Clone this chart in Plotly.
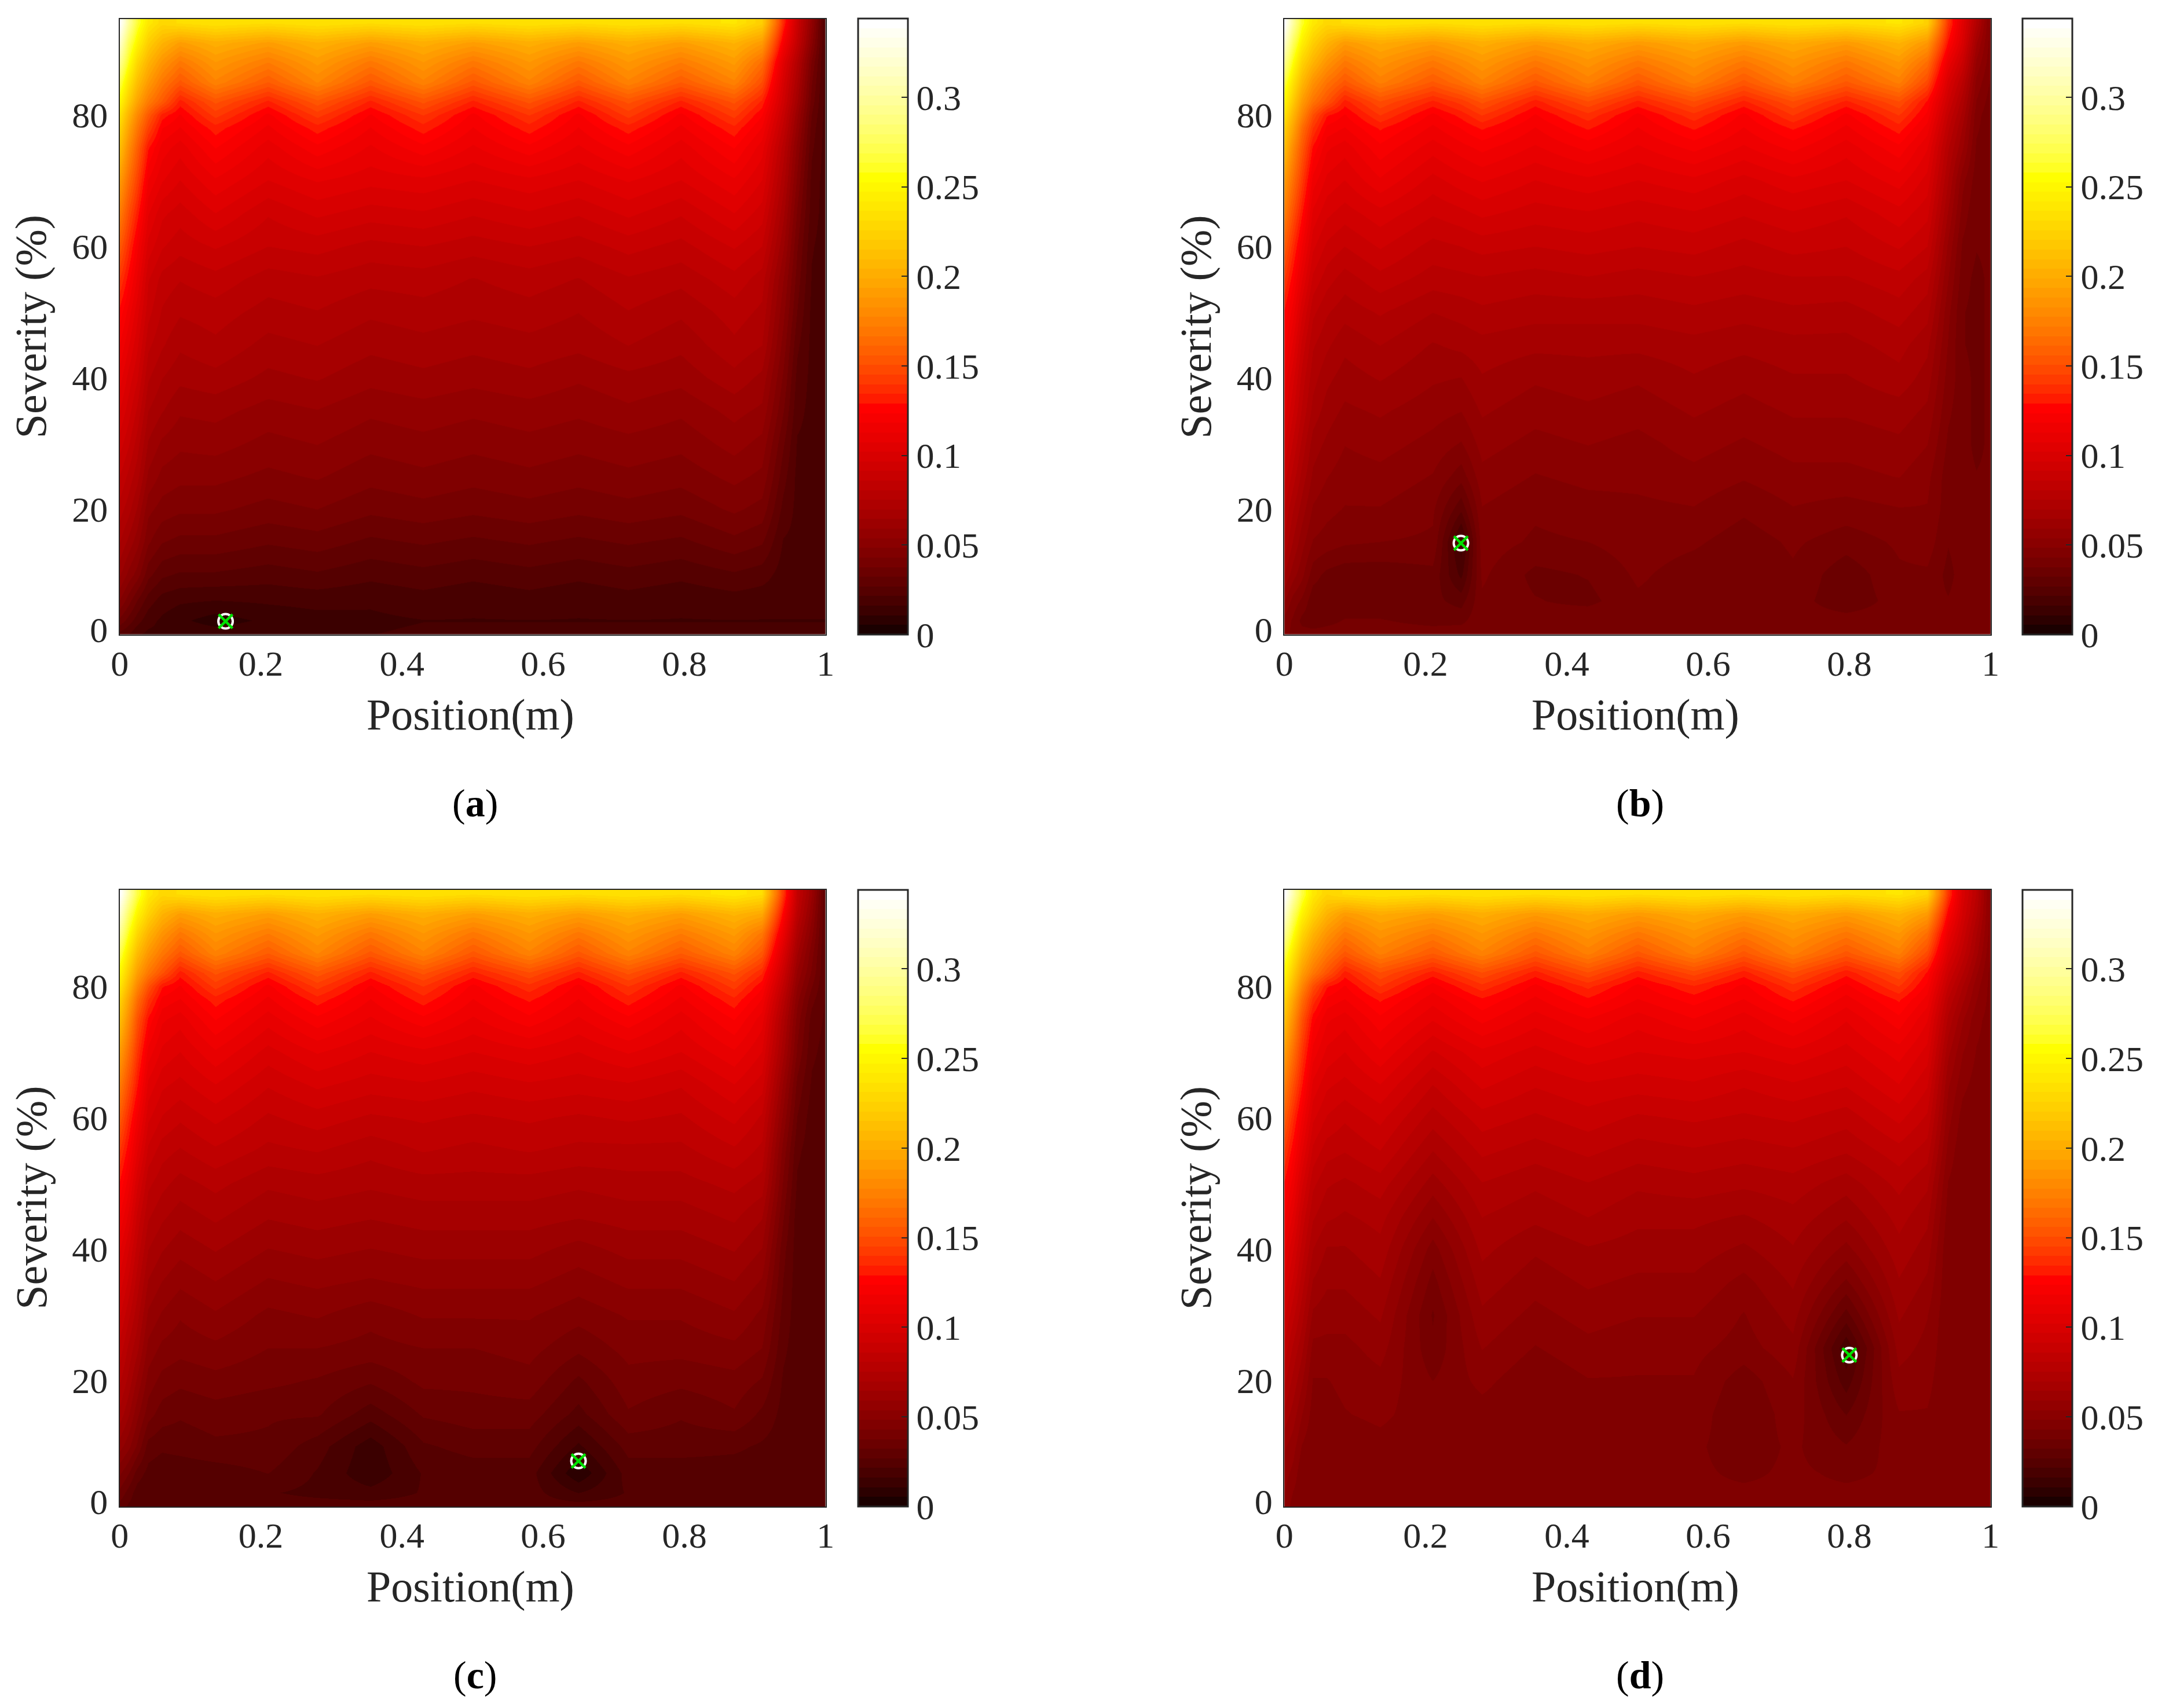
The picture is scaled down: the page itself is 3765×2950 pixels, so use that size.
import plotly.graph_objects as go

W, H = 3765, 2950
FONT = "Liberation Serif"
GREY = "#262626"
OFF = 8  # body margin of the page

# position (m) of the columns, severity of the rows
pos = [0, .012, .025, .04, .06, .085, .135, .21, .28, .355, .43, .50, .58, .65, .72, .795, .87, .91, .94, .96, .98, 1.0]
pos_b = [0, .012, .025, .04, .06, .085, .135, .21, .25, .28, .355, .43, .50, .58, .65, .72, .795, .87, .91, .94, .96, .98, 1.0]
sev = [94, 91, 88, 85, 82, 80, 78, 75, 70, 65, 60, 55, 50, 45, 40, 35, 30, 25, 20, 15, 10, 6, 3, 1]

# values, in thousandths, top row first
panel_a = [
    [344, 300, 265, 240, 228, 232, 236, 232, 236, 232, 236, 232, 236, 232, 236, 232, 238, 222, 135, 90, 55, 19],
    [320, 275, 248, 222, 205, 192, 202, 192, 204, 192, 202, 192, 202, 192, 202, 192, 205, 190, 120, 85, 50, 19],
    [295, 258, 228, 205, 186, 170, 188, 172, 190, 170, 188, 170, 188, 170, 188, 172, 190, 165, 105, 75, 42, 19],
    [270, 238, 212, 190, 170, 154, 176, 156, 178, 154, 176, 154, 176, 154, 176, 156, 176, 150, 98, 70, 38, 19],
    [250, 220, 195, 172, 155, 132, 152, 133, 154, 133, 152, 133, 152, 133, 152, 133, 152, 133, 93, 65, 35, 19],
    [235, 205, 180, 155, 132, 123, 142, 122, 142, 123, 140, 122, 140, 122, 142, 122, 142, 124, 88, 60, 32, 19],
    [225, 195, 170, 145, 124, 118, 132, 117, 132, 118, 132, 118, 132, 118, 132, 117, 133, 118, 84, 57, 30, 19],
    [212, 182, 158, 130, 116, 110, 124, 110, 122, 112, 122, 112, 122, 112, 122, 110, 124, 110, 78, 52, 28, 19],
    [190, 165, 145, 118, 108, 102, 112, 102, 108, 104, 106, 102, 106, 102, 108, 102, 112, 102, 72, 47, 25, 19],
    [172, 150, 132, 108, 98, 94, 102, 92, 98, 94, 96, 92, 96, 92, 98, 92, 102, 94, 66, 42, 24, 19],
    [155, 137, 120, 100, 92, 88, 92, 86, 88, 84, 86, 83, 86, 83, 88, 84, 92, 86, 60, 38, 22, 19],
    [140, 126, 112, 92, 84, 81, 84, 78, 80, 77, 78, 75, 78, 75, 80, 77, 84, 78, 54, 35, 21, 19],
    [127, 116, 104, 88, 80, 76, 78, 73, 75, 71, 73, 71, 73, 70, 75, 71, 78, 74, 50, 32, 20, 19],
    [118, 108, 98, 82, 76, 71, 74, 68, 70, 66, 68, 66, 68, 66, 70, 66, 74, 70, 46, 28, 20, 19],
    [110, 100, 92, 76, 70, 66, 68, 63, 65, 61, 63, 61, 63, 60, 63, 61, 68, 63, 42, 25, 20, 19],
    [102, 94, 85, 70, 65, 60, 61, 57, 59, 55, 57, 55, 57, 55, 58, 55, 61, 58, 38, 23, 20, 19],
    [94, 87, 78, 64, 58, 55, 56, 52, 54, 50, 52, 50, 52, 50, 52, 50, 56, 52, 33, 21, 20, 19],
    [86, 79, 72, 58, 52, 50, 50, 47, 49, 45, 47, 45, 47, 45, 47, 45, 50, 47, 29, 20, 20, 19],
    [78, 72, 64, 50, 46, 44, 44, 41, 43, 39, 41, 39, 41, 39, 41, 39, 44, 41, 25, 20, 20, 19],
    [70, 63, 56, 44, 38, 36, 36, 33, 35, 31, 33, 31, 33, 31, 33, 31, 36, 33, 21, 20, 20, 19],
    [60, 52, 46, 34, 28, 26, 26, 24, 26, 23, 25, 23, 25, 23, 25, 23, 26, 24, 19, 19, 19, 19],
    [48, 40, 32, 24, 19, 17, 16, 17, 18, 17, 19, 17, 19, 17, 19, 17, 19, 18, 18, 18, 18, 18],
    [36, 30, 24, 18, 15, 12, 8, 12, 14, 15, 16, 16, 16, 16, 16, 16, 16, 16, 16, 16, 16, 16],
    [25, 22, 17, 15, 15, 15, 14, 15, 16, 16, 17, 17, 17, 17, 17, 17, 17, 17, 17, 17, 17, 17],
]

panel_b = [
    [344, 300, 262, 240, 228, 232, 236, 232, 234, 236, 232, 236, 232, 236, 232, 236, 232, 238, 224, 140, 105, 75, 45],
    [318, 275, 245, 222, 205, 190, 200, 190, 197, 202, 190, 200, 190, 200, 190, 200, 190, 205, 188, 128, 100, 65, 45],
    [292, 255, 225, 205, 186, 170, 186, 170, 180, 188, 170, 186, 170, 186, 170, 186, 170, 188, 165, 112, 90, 58, 44],
    [268, 235, 208, 185, 168, 154, 174, 155, 166, 176, 154, 174, 154, 174, 154, 174, 155, 174, 148, 100, 80, 52, 42],
    [248, 218, 190, 168, 152, 132, 150, 133, 142, 152, 132, 150, 133, 150, 133, 150, 133, 150, 128, 92, 72, 48, 40],
    [235, 205, 178, 150, 130, 123, 140, 122, 131, 140, 123, 138, 122, 138, 122, 140, 122, 140, 122, 86, 68, 45, 39],
    [222, 195, 165, 140, 122, 118, 130, 117, 124, 130, 118, 130, 118, 130, 118, 130, 117, 132, 116, 82, 64, 44, 39],
    [210, 180, 155, 128, 114, 110, 122, 110, 116, 120, 112, 120, 112, 120, 112, 120, 110, 122, 108, 76, 60, 42, 39],
    [188, 165, 142, 116, 106, 102, 112, 100, 105, 108, 102, 106, 102, 106, 100, 106, 102, 110, 100, 70, 50, 40, 39],
    [172, 150, 130, 106, 98, 94, 100, 92, 95, 98, 94, 96, 93, 96, 92, 96, 92, 100, 93, 64, 46, 38, 39],
    [155, 136, 118, 98, 90, 86, 92, 84, 86, 88, 86, 88, 86, 88, 84, 88, 86, 92, 86, 58, 42, 38, 39],
    [140, 125, 108, 90, 83, 78, 84, 78, 79, 80, 78, 80, 78, 80, 78, 80, 80, 84, 78, 54, 40, 36, 39],
    [128, 115, 98, 82, 76, 72, 76, 70, 72, 74, 72, 72, 72, 74, 72, 74, 73, 78, 72, 50, 38, 36, 39],
    [120, 106, 90, 76, 71, 66, 70, 64, 66, 68, 66, 66, 66, 68, 66, 68, 68, 72, 66, 48, 38, 36, 39],
    [110, 98, 84, 72, 66, 62, 65, 60, 59, 64, 60, 62, 60, 64, 61, 64, 64, 68, 62, 46, 40, 36, 39],
    [104, 92, 80, 68, 62, 58, 60, 56, 54, 60, 56, 58, 56, 60, 57, 60, 60, 62, 58, 44, 40, 36, 39],
    [96, 85, 74, 62, 58, 54, 56, 52, 48, 56, 52, 54, 52, 56, 53, 56, 56, 58, 54, 42, 40, 36, 39],
    [88, 78, 68, 58, 54, 51, 52, 48, 40, 52, 48, 50, 50, 52, 49, 52, 52, 54, 50, 40, 40, 38, 39],
    [80, 70, 62, 53, 50, 48, 48, 44, 28, 48, 44, 46, 47, 48, 44, 48, 46, 48, 48, 40, 40, 40, 39],
    [74, 64, 56, 48, 46, 44, 43, 42, 13, 46, 42, 43, 46, 44, 40, 44, 40, 44, 46, 38, 40, 40, 39],
    [64, 56, 50, 40, 36, 34, 34, 36, 20, 44, 36, 38, 44, 40, 38, 42, 34, 42, 42, 36, 40, 40, 39],
    [54, 46, 42, 34, 34, 34, 34, 34, 30, 42, 38, 36, 42, 40, 38, 40, 34, 40, 40, 38, 40, 40, 39],
    [46, 42, 36, 34, 36, 38, 38, 36, 36, 42, 40, 42, 42, 42, 42, 40, 40, 40, 40, 40, 40, 40, 39],
    [44, 42, 40, 40, 40, 40, 40, 40, 41, 42, 42, 42, 42, 42, 42, 42, 42, 42, 42, 42, 40, 40, 40],
]

panel_c = [
    [344, 305, 268, 240, 228, 232, 236, 232, 236, 232, 236, 232, 236, 232, 236, 232, 240, 232, 140, 85, 60, 26],
    [320, 278, 248, 225, 205, 192, 202, 192, 204, 192, 202, 192, 202, 192, 202, 192, 206, 198, 125, 80, 55, 26],
    [295, 258, 228, 205, 186, 170, 188, 172, 190, 170, 188, 170, 188, 170, 188, 172, 190, 170, 112, 72, 50, 26],
    [270, 238, 210, 188, 170, 154, 176, 156, 178, 154, 176, 154, 176, 154, 176, 156, 176, 154, 100, 65, 45, 26],
    [250, 220, 192, 170, 152, 132, 152, 133, 154, 133, 152, 133, 150, 133, 152, 133, 152, 135, 90, 58, 42, 26],
    [238, 208, 178, 152, 130, 123, 142, 122, 142, 123, 140, 122, 138, 122, 140, 122, 142, 125, 84, 54, 38, 26],
    [225, 195, 165, 140, 122, 118, 132, 117, 132, 118, 132, 118, 130, 118, 132, 117, 133, 118, 78, 50, 34, 26],
    [212, 182, 152, 128, 114, 110, 124, 110, 122, 112, 122, 112, 122, 112, 122, 110, 124, 110, 72, 46, 30, 26],
    [190, 165, 140, 116, 106, 102, 112, 100, 108, 102, 106, 102, 106, 102, 108, 102, 112, 102, 66, 42, 28, 25],
    [172, 150, 130, 106, 98, 95, 102, 92, 98, 94, 96, 93, 96, 94, 96, 92, 102, 94, 58, 36, 26, 24],
    [155, 136, 118, 98, 91, 87, 93, 85, 89, 85, 87, 85, 87, 85, 87, 85, 93, 85, 52, 32, 24, 24],
    [140, 125, 108, 90, 83, 80, 85, 79, 81, 77, 81, 79, 81, 79, 79, 79, 85, 79, 46, 28, 24, 24],
    [128, 115, 98, 82, 77, 73, 77, 71, 73, 71, 73, 73, 73, 71, 73, 73, 77, 73, 42, 26, 24, 24],
    [118, 106, 90, 76, 71, 67, 71, 65, 67, 65, 67, 67, 67, 65, 67, 67, 71, 65, 38, 24, 24, 24],
    [108, 97, 84, 70, 65, 61, 65, 59, 61, 59, 61, 61, 61, 57, 61, 61, 65, 59, 34, 24, 24, 24],
    [100, 90, 78, 64, 59, 55, 59, 53, 55, 53, 55, 55, 55, 51, 55, 55, 59, 53, 32, 24, 24, 24],
    [92, 82, 72, 58, 53, 49, 53, 47, 49, 45, 49, 49, 49, 45, 49, 49, 53, 47, 30, 24, 24, 24],
    [84, 74, 66, 52, 47, 45, 47, 43, 43, 41, 43, 43, 45, 39, 45, 45, 47, 43, 28, 24, 24, 24],
    [76, 68, 58, 46, 41, 39, 41, 39, 37, 33, 39, 39, 41, 31, 41, 39, 41, 37, 26, 24, 24, 24],
    [68, 60, 50, 40, 35, 33, 35, 33, 33, 24, 33, 35, 35, 25, 37, 33, 37, 31, 25, 24, 24, 24],
    [56, 50, 42, 30, 28, 29, 31, 31, 24, 13, 26, 29, 29, 15, 29, 29, 28, 26, 24, 24, 24, 24],
    [44, 38, 30, 25, 23, 23, 24, 27, 21, 12, 22, 24, 24, 6, 24, 24, 24, 24, 24, 24, 24, 24],
    [36, 30, 24, 22, 22, 22, 22, 22, 20, 18, 22, 24, 24, 16, 22, 24, 24, 24, 24, 24, 24, 24],
    [30, 26, 24, 24, 24, 24, 24, 24, 24, 24, 24, 24, 24, 24, 24, 24, 24, 24, 24, 24, 24, 24],
]

panel_d = [
    [344, 305, 268, 240, 226, 232, 236, 232, 236, 232, 236, 232, 236, 232, 236, 232, 238, 226, 140, 100, 80, 50],
    [320, 278, 248, 225, 205, 190, 200, 192, 202, 190, 200, 190, 200, 190, 200, 190, 205, 190, 125, 96, 76, 50],
    [295, 258, 228, 205, 186, 170, 186, 172, 188, 170, 186, 170, 186, 170, 186, 170, 188, 165, 112, 90, 70, 50],
    [270, 238, 210, 188, 170, 154, 174, 156, 176, 154, 174, 154, 174, 154, 174, 154, 174, 148, 102, 84, 66, 48],
    [250, 220, 192, 170, 152, 132, 150, 132, 150, 132, 150, 132, 148, 132, 150, 131, 150, 128, 92, 76, 60, 46],
    [238, 208, 178, 150, 130, 123, 140, 121, 138, 122, 136, 122, 134, 122, 138, 122, 140, 122, 86, 70, 56, 46],
    [225, 195, 165, 138, 122, 118, 130, 115, 128, 117, 128, 118, 126, 118, 130, 116, 130, 116, 80, 66, 54, 46],
    [212, 182, 152, 126, 114, 110, 122, 108, 120, 110, 118, 110, 118, 110, 120, 108, 122, 108, 74, 60, 50, 46],
    [190, 165, 140, 116, 106, 102, 112, 96, 106, 100, 106, 102, 104, 102, 106, 100, 110, 100, 66, 54, 48, 46],
    [172, 150, 130, 106, 98, 95, 102, 86, 98, 92, 96, 94, 96, 92, 96, 92, 102, 92, 60, 50, 46, 46],
    [155, 136, 118, 98, 91, 87, 93, 78, 89, 85, 89, 85, 87, 85, 87, 83, 93, 85, 56, 46, 44, 46],
    [140, 125, 108, 90, 83, 81, 86, 70, 82, 78, 82, 78, 80, 78, 80, 76, 84, 78, 52, 44, 44, 46],
    [128, 115, 98, 82, 76, 74, 78, 62, 75, 71, 75, 71, 73, 71, 73, 67, 77, 71, 48, 44, 44, 46],
    [118, 106, 90, 76, 71, 69, 72, 54, 70, 66, 70, 66, 66, 64, 68, 60, 72, 66, 46, 44, 44, 46],
    [108, 97, 84, 70, 64, 64, 68, 46, 66, 60, 64, 62, 62, 58, 64, 52, 68, 62, 44, 44, 44, 46],
    [100, 90, 78, 64, 60, 60, 64, 41, 62, 56, 60, 58, 58, 52, 60, 42, 64, 58, 44, 44, 44, 46],
    [92, 82, 72, 58, 56, 56, 60, 37, 58, 52, 56, 54, 54, 48, 56, 30, 60, 54, 44, 44, 44, 46],
    [84, 74, 66, 52, 52, 52, 56, 39, 54, 48, 52, 50, 50, 46, 52, 17, 56, 52, 44, 44, 44, 46],
    [76, 68, 60, 48, 48, 50, 52, 43, 50, 44, 48, 48, 48, 40, 48, 24, 52, 50, 44, 44, 44, 46],
    [68, 62, 54, 46, 46, 48, 50, 44, 46, 44, 46, 46, 46, 38, 46, 32, 48, 48, 44, 44, 44, 46],
    [60, 56, 48, 44, 44, 44, 46, 44, 44, 44, 44, 44, 44, 40, 44, 38, 46, 46, 44, 44, 44, 46],
    [56, 52, 44, 44, 44, 44, 44, 44, 44, 44, 44, 44, 44, 42, 44, 42, 44, 44, 44, 44, 44, 46],
    [54, 48, 44, 44, 44, 44, 44, 44, 44, 44, 44, 44, 44, 44, 44, 44, 44, 44, 44, 44, 44, 46],
    [52, 46, 44, 44, 44, 44, 44, 44, 44, 44, 44, 44, 44, 44, 44, 44, 44, 44, 44, 44, 44, 48],
]

panel_names = ["a", "b", "c", "d"]
panel_z = [panel_a, panel_b, panel_c, panel_d]
panel_pos = [pos, pos_b, pos, pos]
fault_pos = [0.15, 0.25, 0.65, 0.80]
fault_sev = [2.9, 14.8, 7.8, 23.9]

x_ticks = [0, 0.2, 0.4, 0.6, 0.8, 1]
x_labels = ["0", "0.2", "0.4", "0.6", "0.8", "1"]
y_ticks = [1.67, 20, 40, 60, 80]
y_labels = ["0", "20", "40", "60", "80"]
c_ticks = [0, 0.05, 0.1, 0.15, 0.2, 0.25, 0.3]
c_labels = ["0", "0.05", "0.1", "0.15", "0.2", "0.25", "0.3"]
ZMAX = 0.344


# hot(64), the picture looks like it went through a gamma of about 0.7
def hot_scale():
    scale = []
    for i in range(64):
        if i < 24:
            rgb = ((i + 1) / 24, 0, 0)
        elif i < 48:
            rgb = (1, (i - 23) / 24, 0)
        else:
            rgb = (1, 1, (i - 47) / 16)
        col = "rgb(%d,%d,%d)" % tuple(255 * ch ** 0.7 for ch in rgb)
        scale.append([i / 64, col])
        scale.append([(i + 1) / 64, col])
    return scale


hot = hot_scale()

# pixel boxes of the panels
col_px = [(206.7 - OFF, 1425.7 - OFF), (2218.2 - OFF, 3437.8 - OFF)]
row_px = [(32.5 - OFF, 1096 - OFF), (1537 - OFF, 2602 - OFF)]
bar_px = [1482 - OFF, 3493 - OFF]

fig = go.Figure()
layout = {}
notes = []
for k in range(4):
    c = k % 2
    r = k // 2
    n = "" if k == 0 else str(k + 1)
    xa, ya = "x" + n, "y" + n
    z = [[v / 1000 for v in row] for row in panel_z[k]][::-1]
    top, bottom = row_px[r]
    left, right = col_px[c]
    fig.add_trace(go.Heatmap(
        x=panel_pos[k], y=sev[::-1], z=z, xaxis=xa, yaxis=ya,
        zmin=0, zmax=ZMAX, colorscale=hot, zsmooth="best", hoverinfo="skip",
        colorbar=dict(
            x=bar_px[c] / W, xanchor="left", xpad=0, ypad=0,
            y=1 - bottom / H, yanchor="bottom", len=(bottom - top) / H, lenmode="fraction",
            thickness=86, thicknessmode="pixels",
            outlinecolor=GREY, outlinewidth=3,
            ticks="inside", ticklen=12, tickwidth=2, tickcolor=GREY,
            tickvals=c_ticks, ticktext=c_labels,
            tickfont=dict(family=FONT, size=62, color=GREY),
        ),
    ))
    # open symbols take their stroke from marker.color
    fig.add_trace(go.Scatter(
        x=[fault_pos[k]], y=[fault_sev[k]], xaxis=xa, yaxis=ya, mode="markers", showlegend=False,
        marker=dict(symbol="circle-open", size=25, color="white", line=dict(width=4)),
    ))
    fig.add_trace(go.Scatter(
        x=[fault_pos[k]], y=[fault_sev[k]], xaxis=xa, yaxis=ya, mode="markers", showlegend=False,
        marker=dict(symbol="x-thin-open", size=24, color="#00e000", line=dict(width=4.5)),
    ))
    layout["xaxis" + n] = dict(
        domain=[left / W, right / W], range=[0, 1], anchor=ya, automargin=False,
        tickvals=x_ticks, ticktext=x_labels, ticks="", ticklabelstandoff=-5,
        tickfont=dict(family=FONT, size=62, color=GREY),
        showgrid=False, zeroline=False, showline=True, mirror=True, linecolor=GREY, linewidth=2,
    )
    layout["yaxis" + n] = dict(
        domain=[1 - bottom / H, 1 - top / H], range=[0.88, 94.6], anchor=xa, automargin=False,
        tickvals=y_ticks, ticktext=y_labels, ticks="", ticklabelstandoff=6,
        tickfont=dict(family=FONT, size=62, color=GREY),
        showgrid=False, zeroline=False, showline=True, mirror=True, linecolor=GREY, linewidth=2,
    )
    # axis titles and the (a) (b) (c) (d) captions
    notes.append(dict(
        text="Position(m)", xref="paper", yref="paper", showarrow=False,
        x=(left + 606) / W, y=1 - (bottom + 138) / H, xanchor="center", yanchor="middle",
        font=dict(family=FONT, size=76, color=GREY),
    ))
    notes.append(dict(
        text="Severity (%)", xref="paper", yref="paper", showarrow=False, textangle=-90,
        x=(left - 153) / W, y=1 - (top + 532) / H, xanchor="center", yanchor="middle",
        font=dict(family=FONT, size=76, color=GREY),
    ))
    notes.append(dict(
        text="(<b>%s</b>)" % panel_names[k], xref="paper", yref="paper", showarrow=False,
        x=(left + 614) / W, y=1 - (bottom + 291) / H, xanchor="center", yanchor="middle",
        font=dict(family=FONT, size=68, color="black"),
    ))

fig.update_layout(
    width=W, height=H, margin=dict(l=0, r=0, t=0, b=0), autosize=False, showlegend=False,
    paper_bgcolor="white", plot_bgcolor="white", annotations=notes, **layout,
)

fig.write_html("out.html")
